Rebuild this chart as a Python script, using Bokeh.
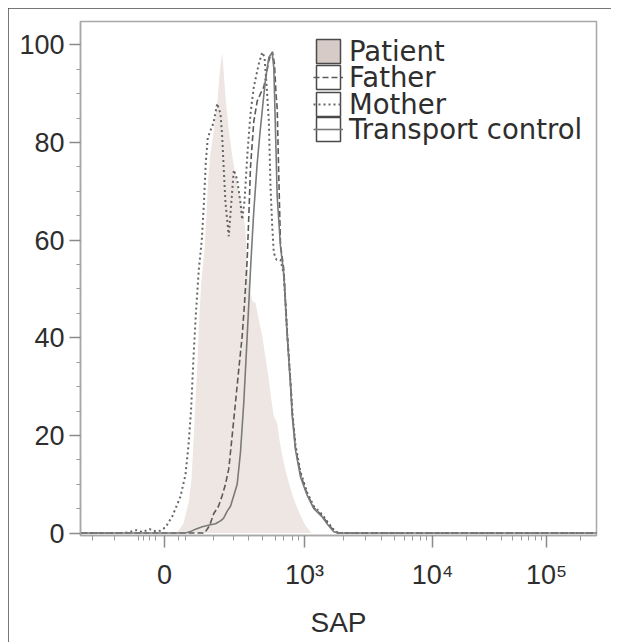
import math
from bokeh.plotting import figure
from bokeh.models import FixedTicker, Legend, LegendItem, ColumnDataSource, Range1d
from bokeh.embed import file_html
from bokeh.resources import INLINE

# x values are in display units of the biexponential SAP scale (0 at "0")
tick_pos = [0, 140, 268, 382]
tick_labels = ["0", "10\u00b3", "10\u2074", "10\u2075"]
y_ticks = [0, 20, 40, 60, 80, 100]

patient_x = [-84, 11, 14, 19, 24.3, 27, 29.3, 32.7, 35, 37, 40, 42, 43.5, 45.5, 49.3, 53.3, 55.5, 57.7,
             59, 61, 64.3, 68, 72, 76, 81, 82.7, 85, 88, 91, 94, 97.7, 101, 104.3, 107, 109.3, 112.7,
             115, 117.7, 122, 126, 131, 136, 141, 147, 432]
patient_y = [0, 0, 0.5, 2, 6.4, 11, 20, 33.6, 45, 52, 58, 65, 72, 77, 82.5, 89.3, 95, 98.5,
             95, 89.3, 82.5, 77, 72, 68.9, 62.1, 55.3, 50, 47.5, 47.2, 44, 40.4, 36, 31.5, 27, 24, 22.5,
             19, 15.9, 12, 9.1, 6, 3.6, 1.5, 0, 0]

mother_x = [-84, -40, -28, -22, -15, -8, -4, 1, 8, 16, 21, 24, 26.5, 29, 31.4, 34.3, 37.3, 39.5, 41.3,
            43.3, 46, 49, 52.7, 56, 57.7, 59.3, 61, 64.3, 66, 69.3, 72.7, 76, 77.7, 80, 83, 86, 89.3,
            94.3, 97.7, 100, 102, 104.3, 106, 107.7, 109.3, 112, 116, 119.3, 122.7, 126, 128, 131, 136,
            142.7, 149.3, 157.7, 164, 170, 174, 432]
mother_y = [0, 0, 0.6, 0.2, 0.8, 0.3, 0.5, 1.2, 3.5, 7.5, 12, 18, 25, 36, 45, 54, 60, 68, 76,
            81, 82.5, 84, 88, 85.9, 81.2, 74.4, 67.6, 60.8, 65.5, 74.4, 72.4, 67.6, 64.2, 68, 78, 85.9, 91.4,
            96.1, 98.5, 97.5, 92, 84.6, 71, 63, 57.4, 56, 56, 53, 41, 31, 24.5, 18, 12.5,
            8.3, 5.5, 3.8, 2, 0.5, 0, 0]

father_x = [-84, 40, 45, 49.3, 54, 57.7, 61, 64.3, 67.7, 71, 74.3, 77.7, 80, 82.7, 84.5, 86, 89.3, 92.7,
            96, 99.3, 102, 104, 106, 108, 110, 111.5, 112.7, 114.3, 116, 118, 119.3, 122.7, 126, 128,
            131, 136, 142.7, 149.3, 157.7, 164, 170, 174, 432]
father_y = [0, 0, 1.5, 4, 5.5, 7.7, 10, 13.2, 20, 26.8, 33.6, 40.4, 47, 56, 66, 75, 84.3, 88.5,
            90, 91.4, 94, 96.5, 97.8, 98.6, 96, 90, 87, 73, 59, 56, 54, 41, 31, 24,
            17.5, 12, 8, 5.2, 3.5, 1.8, 0.3, 0, 0]

control_x = [-84, 21, 26, 31, 37.7, 46, 51, 56, 59, 62.7, 66, 69, 72.7, 76, 79.3, 82.7, 86, 89, 92.6,
             95.5, 98.5, 101, 104.4, 107.6, 109.3, 111, 112.7, 116, 119.3, 122.7, 126, 127.7, 131, 136,
             142.7, 149.3, 157.7, 163, 169, 173, 432]
control_y = [0, 0, 0.3, 0.8, 1.3, 1.7, 1.9, 2.5, 3, 4.5, 5.5, 7.5, 10, 16.6, 26.8, 40.4, 54, 65, 75.5,
             82, 88.1, 93, 97.5, 98.4, 95.4, 82.5, 68.9, 58.7, 53, 40.4, 30.2, 24, 17, 11.5,
             7.7, 5, 3.3, 1.8, 0.3, 0, 0]

series = ["Patient", "Father", "Mother", "Transport control"]

FONT = "Liberation Sans"
TXT = "#2e2e2e"

p = figure(width=603, height=634, output_backend="svg", toolbar_location=None,
           x_range=Range1d(-84, 432), y_range=Range1d(-0.5, 104.8),
           min_border_left=72, min_border_right=15, min_border_top=13, min_border_bottom=107,
           background_fill_color="white", border_fill_color="white")
p.margin = (8, 0, 0, 8)
p.styles = {"outline": "1.5px solid #4a4a4a", "outline-offset": "-1.5px"}
p.grid.visible = False
p.outline_line_color = "#a8a8a8"
p.outline_line_width = 1.5

pat = p.varea(x=patient_x, y1=0, y2=patient_y, fill_color="#ede6e3")
mom = p.line(mother_x, mother_y, line_color="#666666", line_width=2, line_dash="2 3")
dad = p.line(father_x, father_y, line_color="#5a5a5a", line_width=1.6, line_dash="6 3")
ctl = p.line(control_x, control_y, line_color="#7a7a7a", line_width=1.6)

# legend-only swatches (placed outside the visible range)
box_src = ColumnDataSource(dict(l=[-2000], r=[-1999], b=[-2000], t=[-1999]))
pat_box = p.quad(left="l", right="r", bottom="b", top="t", source=box_src,
                 fill_color="#d6cbc6", line_color="#4a4a4a", line_width=1.5)
white_box = p.quad(left="l", right="r", bottom="b", top="t", source=box_src,
                   fill_color="white", line_color="#4a4a4a", line_width=1.5)

item_renderers = [[pat_box], [white_box, dad], [white_box, mom], [white_box, ctl]]
legend_y = [468, 442, 415, 390]
for label, rends, ly in zip(series, item_renderers, legend_y):
    lg = Legend(items=[LegendItem(label=label, renderers=rends)],
                location=(233, ly), padding=0, margin=0, spacing=0,
                glyph_width=30, glyph_height=30, label_standoff=6,
                label_text_font="DejaVu Sans", label_text_font_size="27.5px", label_text_color=TXT,
                border_line_color=None, background_fill_alpha=0)
    p.add_layout(lg)

xa = p.xaxis[0]
xa.ticker = FixedTicker(ticks=tick_pos,
                        minor_ticks=[-72, -50, -26, -21, -15, -9, 14, 21, 49, 69, 84, 98, 111, 119, 128, 134]
                        + [round(140 + 128 * math.log10(k), 1) for k in range(2, 10)]
                        + [round(268 + 114 * math.log10(k), 1) for k in range(2, 10)]
                        + [416])
xa.major_label_overrides = {t: s for t, s in zip(tick_pos, tick_labels)}
xa.axis_label = "SAP"

ya = p.yaxis[0]
ya.ticker = FixedTicker(ticks=y_ticks, minor_ticks=[v for v in range(0, 105, 5) if v % 20])

for ax in (xa, ya):
    ax.axis_line_color = "#a8a8a8"
    ax.axis_line_width = 1.5
    ax.major_tick_line_color = "#8a8a8a"
    ax.minor_tick_line_color = "#9a9a9a"
    ax.major_tick_line_width = 1.5
    ax.major_tick_in = 0
    ax.minor_tick_in = 0
    ax.major_label_text_font = FONT
    ax.major_label_text_font_size = "27px"
    ax.major_label_text_color = TXT
    ax.axis_label_text_font = FONT
    ax.axis_label_text_font_size = "28px"
    ax.axis_label_text_font_style = "normal"
    ax.axis_label_text_color = TXT

xa.major_tick_out = 12
xa.minor_tick_out = 5
xa.major_label_standoff = 12
xa.axis_label_standoff = 14
ya.major_tick_out = 11
ya.minor_tick_out = 4
ya.major_label_standoff = 5

open("out.html", "w").write(file_html(p, INLINE))
